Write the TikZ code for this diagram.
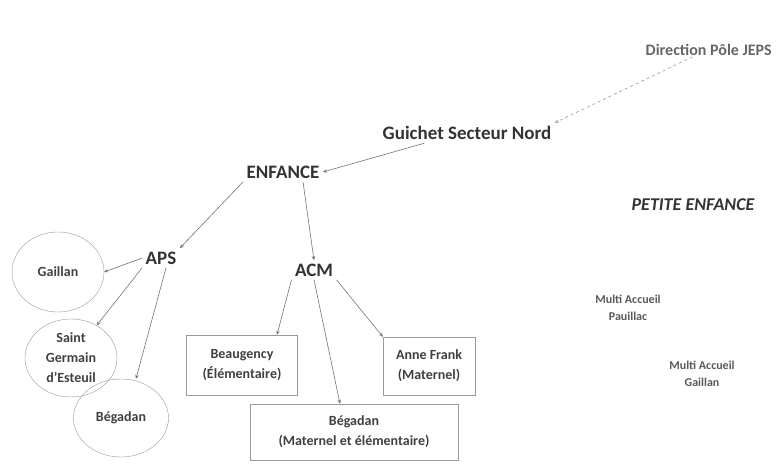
\documentclass[tikz,border=0pt]{standalone}
\usepackage{fontspec}
\setmainfont{Carlito}
\usetikzlibrary{arrows.meta,shapes.geometric}
\begin{document}
\begin{tikzpicture}[x=1pt,y=-1pt,
    titre/.style={font=\bfseries\fontsize{19}{22}\selectfont, text=black!80},
    site/.style={font=\bfseries\fontsize{14}{20}\selectfont, text=black!75, align=center},
    ronde/.style={site, ellipse, draw=black!40, minimum width=92pt, minimum height=80pt, inner sep=0pt},
    boite/.style={site, rectangle, draw=black!40, inner sep=0pt},
    multi/.style={font=\bfseries\fontsize{12}{17}\selectfont, text=black!65, align=center},
    fl/.style={-{Stealth[length=4pt,width=3.5pt]}, draw=black!55, line width=0.6pt}]
  \useasboundingbox (0,0) rectangle (776,465);
  \draw
    (773,50) node[titre, anchor=east, inner sep=1pt, text=black!60, font=\bfseries\fontsize{16}{19}\selectfont] (dir){Direction Pôle JEPS}
    (467,133) node[titre] (gui){Guichet Secteur Nord}
    (283,172) node[titre] (enf){ENFANCE}
    (161,258) node[titre] (aps){APS}
    (314,270) node[titre] (acm){ACM}
    (58,272) node[ronde] (gai){Gaillan}
    (71,358) node[ronde, minimum height=78pt] (sge){Saint\\Germain\\d'Esteuil}
    (121,418) node[ronde, minimum width=95pt, minimum height=78pt] (beg){Bégadan}
    (242,365) node[boite, minimum width=111pt, minimum height=60pt] (bea){Beaugency\\(Élémentaire)}
    (429,366) node[boite, minimum width=92pt, minimum height=58pt] (ann){Anne Frank\\(Maternel)}
    (354,432) node[boite, minimum width=208pt, minimum height=56pt] (bme){Bégadan\\(Maternel et élémentaire)}
    (693,205) node[titre, font=\bfseries\itshape\fontsize{18}{21}\selectfont] (pe){PETITE ENFANCE}
    (628,308) node[multi] (map){Multi Accueil\\Pauillac}
    (702,374) node[multi] (mag){Multi Accueil\\Gaillan};
  \begin{scope}[fl]
    \draw[dashed, draw=black!40] ([xshift=48pt]dir.south west) to[shorten >=10pt] (gui.north east);
    \draw ([xshift=45pt]gui.south west) to[shorten >=18pt] (enf.east);
    \draw (enf.south west) to[shorten >=6pt] (aps.north east);
    \draw ([xshift=20pt]enf.south) to[shorten >=2pt] (acm.north);
    \draw (aps.west) to[shorten >=8pt] (gai.east);
    \draw (aps.south west) to[shorten >=6pt] (sge);
    \draw ([xshift=5pt]aps.south) to[shorten >=8pt] ([xshift=15pt]beg.north);
    \draw (acm.south west) to[shorten >=10pt] ([xshift=35pt]bea.north);
    \draw (acm.south) to[shorten >=10pt] ([xshift=-14pt]bme.north);
    \draw (acm.south east) to[shorten >=8pt] (ann.north west);
  \end{scope}
\end{tikzpicture}
\end{document}
